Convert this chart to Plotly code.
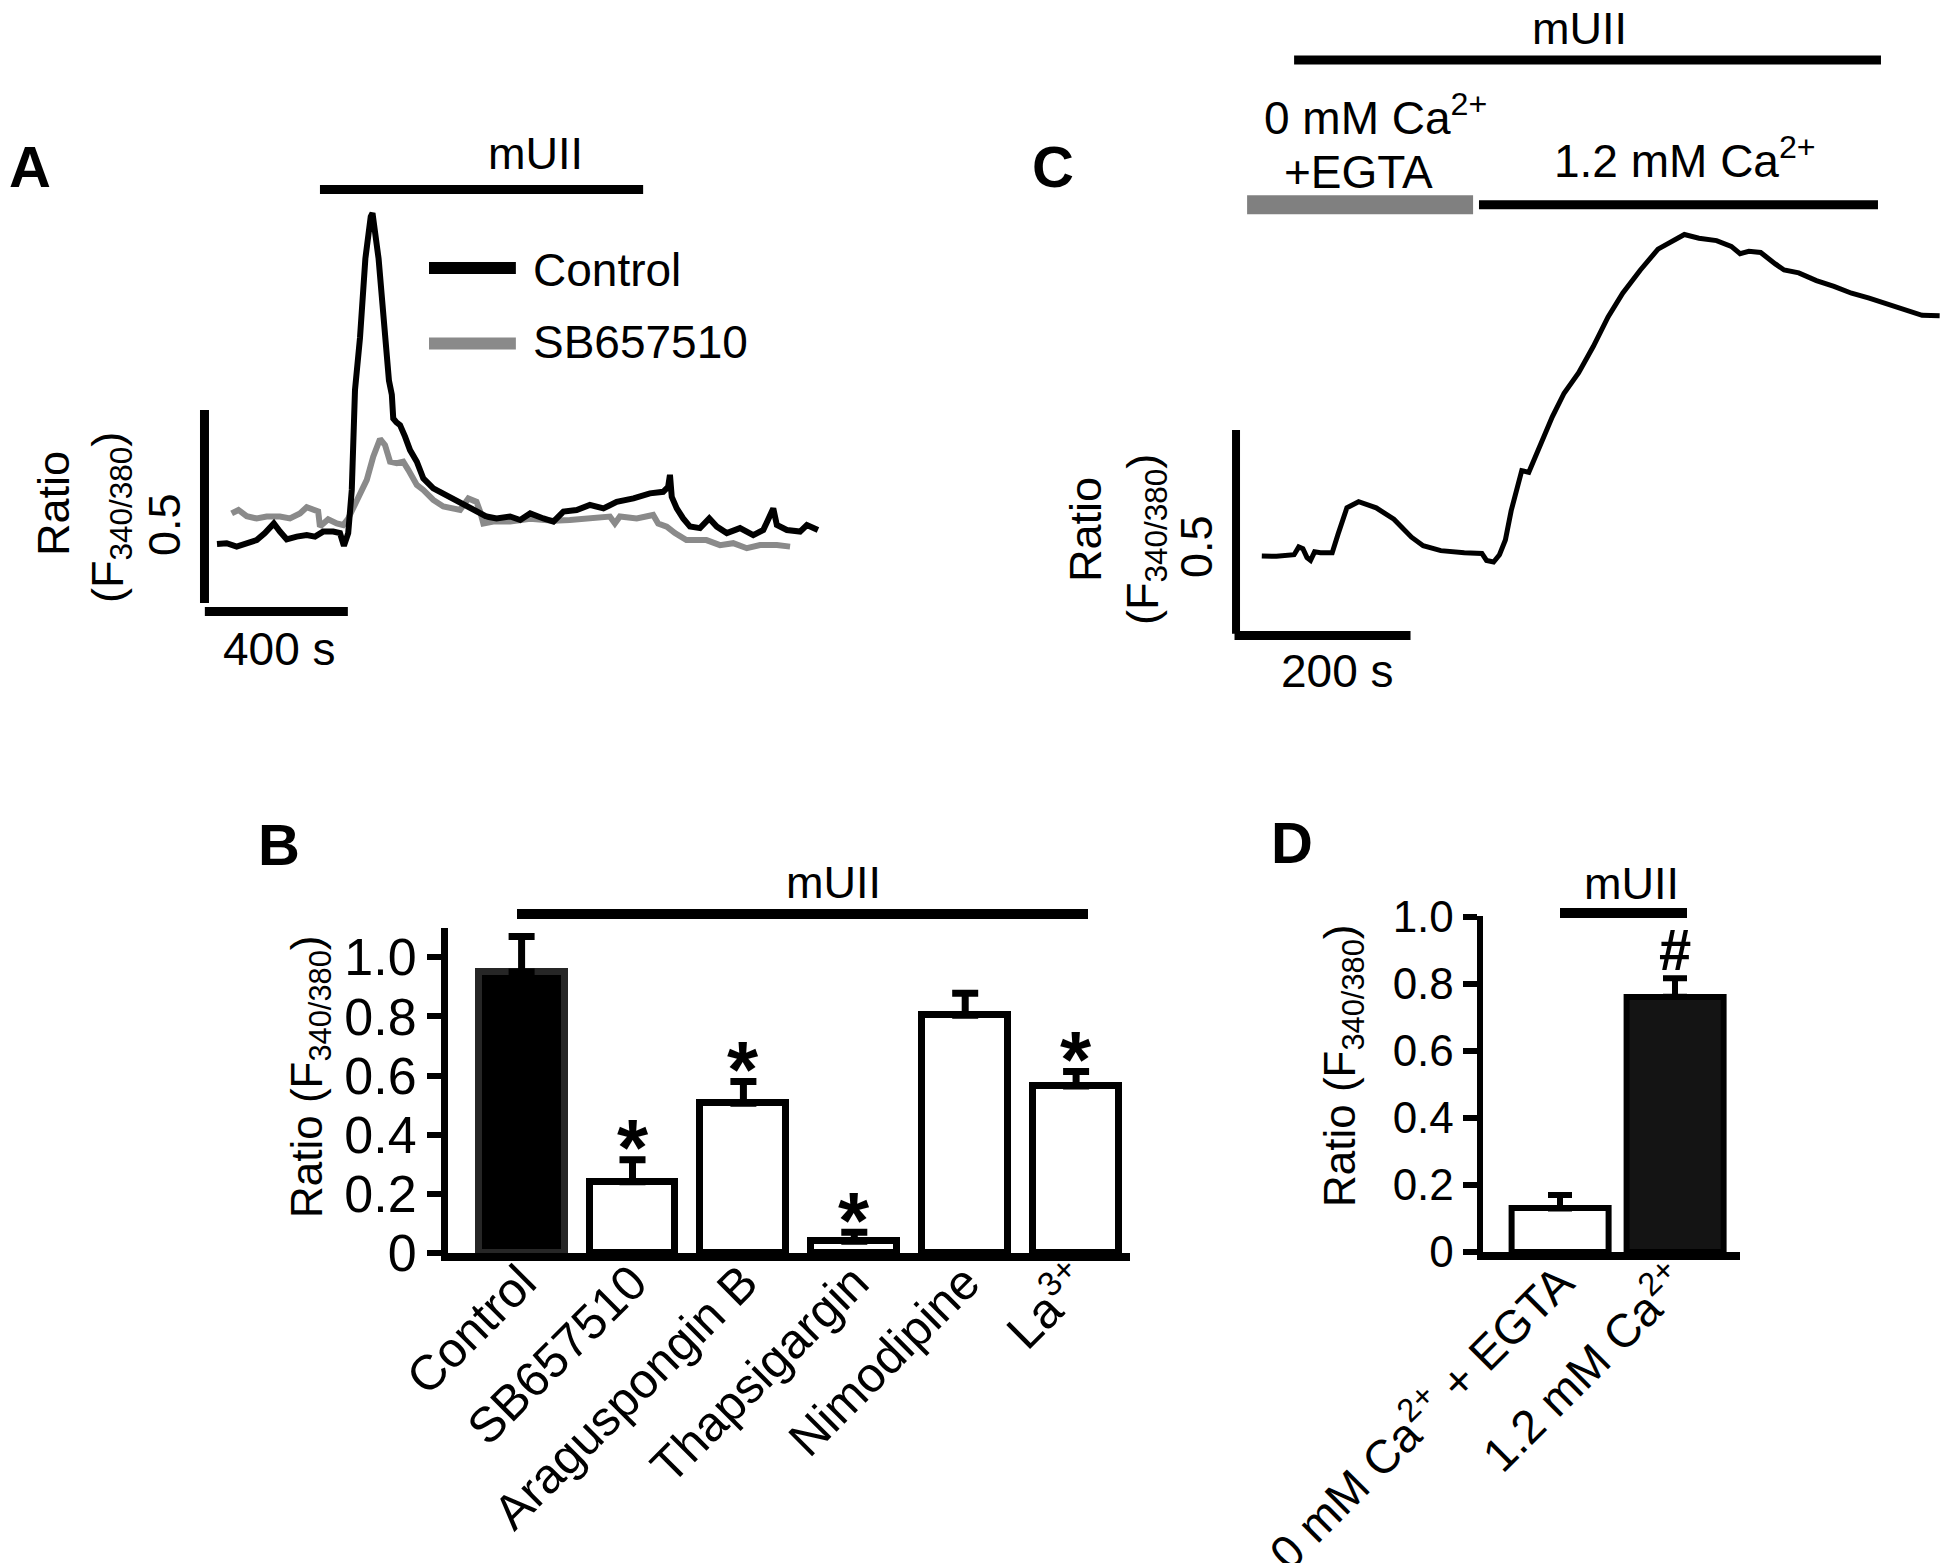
import plotly.graph_objects as go

W, H = 1950, 1563
FONT = "Liberation Sans, Arial, sans-serif"

# ---------------- Panel A : Ca2+ traces (time in s, ratio F340/380) ----------------
a_ctrl_t = [0, 27, 55, 83, 111, 134, 148, 159, 176, 195, 223, 251, 274, 297, 325, 344, 355, 367,
            377, 382, 386, 400, 415, 430, 435, 452, 467, 481, 489, 493, 502, 512, 526, 540, 559,
            577, 605, 633, 661, 698, 726, 754, 782, 820, 848, 876, 913, 941, 969, 1006, 1043,
            1081, 1118, 1165, 1211, 1248, 1262, 1267, 1272, 1286, 1304, 1323, 1351, 1377, 1398,
            1426, 1463, 1500, 1528, 1545, 1556, 1566, 1594, 1631, 1650, 1681]
a_ctrl_r = [0.553, 0.555, 0.546, 0.556, 0.563, 0.581, 0.594, 0.606, 0.585, 0.565, 0.572, 0.576,
            0.572, 0.585, 0.585, 0.581, 0.548, 0.581, 0.693, 0.825, 0.952, 1.087, 1.292, 1.401,
            1.410, 1.292, 1.127, 0.976, 0.940, 0.878, 0.868, 0.861, 0.831, 0.796, 0.766, 0.723,
            0.697, 0.684, 0.667, 0.654, 0.641, 0.624, 0.619, 0.624, 0.615, 0.632, 0.619, 0.611,
            0.637, 0.641, 0.654, 0.645, 0.662, 0.671, 0.684, 0.688, 0.701, 0.732, 0.675, 0.645,
            0.619, 0.598, 0.594, 0.619, 0.598, 0.581, 0.594, 0.576, 0.589, 0.624, 0.645, 0.602,
            0.589, 0.585, 0.602, 0.589]
a_sb_t = [41, 60, 83, 111, 139, 176, 204, 232, 251, 269, 283, 288, 311, 335, 353, 367, 391, 419,
          437, 456, 470, 484, 503, 521, 535, 559, 577, 605, 633, 680, 703, 726, 736, 745, 773, 820,
          876, 941, 987, 1043, 1099, 1113, 1127, 1174, 1220, 1234, 1258, 1281, 1313, 1369, 1407,
          1444, 1482, 1519, 1566, 1603]
a_sb_r = [0.632, 0.641, 0.625, 0.619, 0.624, 0.624, 0.619, 0.632, 0.648, 0.643, 0.637, 0.598,
          0.617, 0.606, 0.602, 0.619, 0.667, 0.719, 0.779, 0.825, 0.809, 0.766, 0.762, 0.766,
          0.745, 0.706, 0.693, 0.667, 0.650, 0.641, 0.671, 0.662, 0.637, 0.606, 0.611, 0.611,
          0.618, 0.613, 0.615, 0.619, 0.624, 0.606, 0.624, 0.619, 0.628, 0.606, 0.598, 0.581,
          0.563, 0.563, 0.550, 0.555, 0.542, 0.550, 0.550, 0.546]
a_series_names = ["Control", "SB657510"]
a_mUII_period = [288, 1192]        # s
a_scale_time = 400                 # s
a_scale_ratio = 0.5

# ---------------- Panel C : Ca2+ trace ----------------
c_t = [0, 16.7, 36.7, 42.0, 46.7, 51.4, 55.4, 60.0, 66.7, 80.0, 86.7, 96.7, 110.0, 130.0, 150.1,
       170.1, 183.4, 203.4, 230.1, 250.1, 255.4, 263.4, 270.1, 276.8, 283.4, 290.1, 295.4, 303.4,
       310.1, 320.1, 330.1, 343.5, 360.1, 376.8, 393.5, 410.1, 430.2, 450.2, 466.8, 480.2, 496.8,
       516.8, 533.5, 543.5, 553.5, 566.9, 583.5, 593.5, 610.2, 630.2, 650.2, 670.2, 690.2, 710.2,
       730.3, 750.3, 770.3]
c_r = [0.591, 0.590, 0.594, 0.613, 0.609, 0.587, 0.580, 0.601, 0.599, 0.599, 0.645, 0.709, 0.724,
       0.709, 0.681, 0.637, 0.616, 0.604, 0.599, 0.597, 0.580, 0.576, 0.594, 0.630, 0.702, 0.760,
       0.800, 0.796, 0.832, 0.882, 0.932, 0.990, 1.040, 1.105, 1.177, 1.235, 1.292, 1.343, 1.364,
       1.379, 1.370, 1.364, 1.350, 1.332, 1.338, 1.335, 1.307, 1.292, 1.285, 1.266, 1.252, 1.235,
       1.223, 1.209, 1.194, 1.181, 1.180]
c_mUII_period = [36.7, 703.6]
c_zeroCa_period = [-16.7, 240.1]
c_highCa_period = [246.8, 700.2]
c_scale_time = 200
c_scale_ratio = 0.5

# ---------------- Panel B : bar chart ----------------
b_categories = ["Control", "SB657510", "Araguspongin B", "Thapsigargin", "Nimodipine", "La<sup>3+</sup>"]
b_means = [0.950, 0.241, 0.506, 0.040, 0.804, 0.565]
b_sem = [0.120, 0.074, 0.074, 0.030, 0.074, 0.049]
b_sig = ["", "*", "*", "*", "", "*"]
b_fill = ["black", "white", "white", "white", "white", "white"]

# ---------------- Panel D : bar chart ----------------
d_categories = ["0 mM Ca<sup>2+</sup> + EGTA", "1.2 mM Ca<sup>2+</sup>"]
d_means = [0.130, 0.762]
d_sem = [0.040, 0.055]
d_sig = ["", "#"]
d_fill = ["white", "#141414"]

y_tickvals = [0, 0.2, 0.4, 0.6, 0.8, 1.0]
y_ticktext = ["0", "0.2", "0.4", "0.6", "0.8", "1.0"]


# ---------------- layout helpers (pixel -> paper) ----------------
def PX(x):
    return x / W


def PY(y):
    return 1 - y / H


def xr(p0, p1, origin, scale):
    return [(p0 - origin) / scale, (p1 - origin) / scale]


def yr(p_bottom, p_top, origin, scale):
    return [(origin - p_bottom) / scale, (origin - p_top) / scale]


# pixel mappings of the trace panels
A_X0, A_SX, A_Y0, A_SY = 217.0, 0.3575, 757.4, 386.0
C_X0, C_SX, C_Y0, C_SY = 1261.8, 0.88, 797.0, 407.9

fig = go.Figure()

# Panel A traces
fig.add_trace(go.Scatter(x=a_sb_t, y=a_sb_r, mode="lines", name=a_series_names[1],
                         line=dict(color="#8a8a8a", width=6), xaxis="x", yaxis="y"))
fig.add_trace(go.Scatter(x=a_ctrl_t, y=a_ctrl_r, mode="lines", name=a_series_names[0],
                         line=dict(color="black", width=6), xaxis="x", yaxis="y"))

# Panel C trace
fig.add_trace(go.Scatter(x=c_t, y=c_r, mode="lines", line=dict(color="black", width=5),
                         xaxis="x3", yaxis="y3"))

# Panel B bars
b_x = list(range(len(b_categories)))
fig.add_trace(go.Bar(x=b_x, y=b_means, width=0.775,
                     marker=dict(color=b_fill, line=dict(color=["#262626"] + ["black"] * 5, width=7)),
                     error_y=dict(type="data", array=b_sem, arrayminus=[0] * len(b_sem), symmetric=False,
                                  thickness=7, width=13, color="black"),
                     xaxis="x2", yaxis="y2"))

# Panel D bars
d_x = list(range(len(d_categories)))
fig.add_trace(go.Bar(x=d_x, y=d_means, width=0.843,
                     marker=dict(color=d_fill, line=dict(color="black", width=6)),
                     error_y=dict(type="data", array=d_sem, arrayminus=[0] * len(d_sem), symmetric=False,
                                  thickness=6, width=12, color="black"),
                     xaxis="x4", yaxis="y4"))

hidden = dict(visible=False, fixedrange=True, showgrid=False, zeroline=False, automargin=False)

ax_common = dict(showgrid=False, zeroline=False, fixedrange=True, showline=True, linecolor="black",
                 tickcolor="black", automargin=False)

fig.update_layout(
    template="none",
    width=W, height=H, autosize=False,
    margin=dict(l=0, r=0, t=0, b=0, pad=0, autoexpand=False),
    paper_bgcolor="white", plot_bgcolor="rgba(0,0,0,0)",
    showlegend=False, bargap=0,
    font=dict(family=FONT, color="black"),
    xaxis=dict(domain=[PX(0), PX(840)], range=xr(0, 840, A_X0, A_SX), anchor="y", **hidden),
    yaxis=dict(domain=[PY(700), PY(120)], range=yr(700, 120, A_Y0, A_SY), anchor="x", **hidden),
    xaxis3=dict(domain=[PX(1020), PX(1950)], range=xr(1020, 1950, C_X0, C_SX), anchor="y3", **hidden),
    yaxis3=dict(domain=[PY(720), PY(0)], range=yr(720, 0, C_Y0, C_SY), anchor="x3", **hidden),
    xaxis2=dict(domain=[PX(448), PX(1130)], range=xr(448, 1130, 521.6, 110.9), anchor="y2",
                tickvals=b_x, ticktext=b_categories, tickangle=-45, ticks="", linewidth=8,
                ticklabelstandoff=-27,
                tickfont=dict(size=49, family=FONT, color="black"), **ax_common),
    yaxis2=dict(domain=[PY(1253), PY(928)], range=[0, 1.099], anchor="x2",
                tickvals=y_tickvals, ticktext=y_ticktext, ticks="outside", ticklen=14, tickwidth=6,
                linewidth=7, tickfont=dict(size=52, family=FONT, color="black"), **ax_common),
    xaxis4=dict(domain=[PX(1482.6), PX(1740)], range=xr(1482.6, 1740, 1560, 115), anchor="y4",
                tickvals=d_x, ticktext=d_categories, tickangle=-45, ticks="", linewidth=8,
                ticklabelstandoff=-24,
                tickfont=dict(size=47, family=FONT, color="black"), **ax_common),
    yaxis4=dict(domain=[PY(1252), PY(916)], range=[0, 1.003], anchor="x4",
                tickvals=y_tickvals, ticktext=y_ticktext, ticks="outside", ticklen=14, tickwidth=6,
                linewidth=6, tickfont=dict(size=44, family=FONT, color="black"), **ax_common),
)

shapes = []


def dline(x0, y0, x1, y1, xa, ya, width, color="black"):
    shapes.append(dict(type="line", xref=xa, yref=ya, x0=x0, y0=y0, x1=x1, y1=y1,
                       line=dict(color=color, width=width)))


def pline(x0, y0, x1, y1, width, color="black"):
    shapes.append(dict(type="line", xref="paper", yref="paper", x0=PX(x0), y0=PY(y0), x1=PX(x1), y1=PY(y1),
                       line=dict(color=color, width=width)))


# Panel A decorations (data coordinates)
dline(a_mUII_period[0], 1.471, a_mUII_period[1], 1.471, "x", "y", 9)
dline(593, 1.268, 836, 1.268, "x", "y", 12)                    # legend: Control
dline(593, 1.072, 836, 1.072, "x", "y", 12, "#8a8a8a")         # legend: SB657510
dline(-35, 0.40, -35, 0.40 + a_scale_ratio, "x", "y", 9)       # vertical scale bar
dline(-34, 0.378, -34 + a_scale_time, 0.378, "x", "y", 9)       # horizontal scale bar

# Panel C decorations
dline(c_mUII_period[0], 1.807, c_mUII_period[1], 1.807, "x3", "y3", 9)
dline(c_zeroCa_period[0], 1.452, c_zeroCa_period[1], 1.452, "x3", "y3", 19, "#808080")
dline(c_highCa_period[0], 1.452, c_highCa_period[1], 1.452, "x3", "y3", 9)
dline(-29.3, 0.40, -29.3, 0.40 + c_scale_ratio, "x3", "y3", 8)
dline(-31, 0.396, -31 + c_scale_time, 0.396, "x3", "y3", 9)

# Panel B / D mUII bars (paper)
pline(517, 914, 1088, 914, 10)
pline(1560, 913, 1687, 913, 10)

fig.update_layout(shapes=shapes)

ann = []


def txt(x, y, s, size, angle=0, bold=False, xanchor="center", yanchor="middle"):
    ann.append(dict(xref="paper", yref="paper", x=PX(x), y=PY(y), text=("<b>%s</b>" % s) if bold else s,
                    showarrow=False, textangle=angle, xanchor=xanchor, yanchor=yanchor,
                    font=dict(size=size, family=FONT, color="black")))


# Panel letters
txt(30, 166, "A", 58, bold=True)
txt(279, 844, "B", 58, bold=True)
txt(1053, 166, "C", 58, bold=True)
txt(1292, 842, "D", 58, bold=True)

# Panel A texts
txt(535, 154, "mUII", 45)
txt(531, 270, a_series_names[0], 46, xanchor="left")
txt(531, 342, a_series_names[1], 46, xanchor="left")
txt(279, 649, "%d s" % a_scale_time, 46)
txt(53, 504, "Ratio", 45, angle=-90)
txt(110, 518, "(F<sub>340/380</sub>)", 45, angle=-90)
txt(164, 525, "%.1f" % a_scale_ratio, 45, angle=-90)

# Panel C texts
txt(1579, 29, "mUII", 45)
txt(1262, 115, "0 mM Ca<sup>2+</sup>", 46, xanchor="left")
txt(1282, 172, "+EGTA", 46, xanchor="left")
txt(1552, 158, "1.2 mM Ca<sup>2+</sup>", 46, xanchor="left")
txt(1337, 671, "%d s" % c_scale_time, 46)
txt(1085, 530, "Ratio", 45, angle=-90)
txt(1145, 540, "(F<sub>340/380</sub>)", 45, angle=-90)
txt(1197, 547, "%.1f" % c_scale_ratio, 45, angle=-90)

# Panel B texts
txt(833, 882, "mUII", 45)
txt(310, 1077, "Ratio (F<sub>340/380</sub>)", 44, angle=-90)

# Panel D texts
txt(1631, 883, "mUII", 45)
txt(1343, 1066, "Ratio (F<sub>340/380</sub>)", 44, angle=-90)

# significance marks
for i, s in enumerate(b_sig):
    if s:
        ann.append(dict(xref="x2", yref="y2", x=b_x[i], y=b_means[i] + b_sem[i], text="<b>%s</b>" % s,
                        showarrow=False, yanchor="middle", yshift=12,
                        font=dict(size=80, family=FONT, color="black")))
for i, s in enumerate(d_sig):
    if s:
        ann.append(dict(xref="x4", yref="y4", x=d_x[i], y=d_means[i] + d_sem[i], text="<b>%s</b>" % s,
                        showarrow=False, yanchor="middle", yshift=29,
                        font=dict(size=58, family=FONT, color="black")))

fig.update_layout(annotations=ann)

fig.write_html("out.html", config={"displayModeBar": False, "staticPlot": False},
               post_script="document.body.style.margin='0px';document.body.style.overflow='hidden';")
